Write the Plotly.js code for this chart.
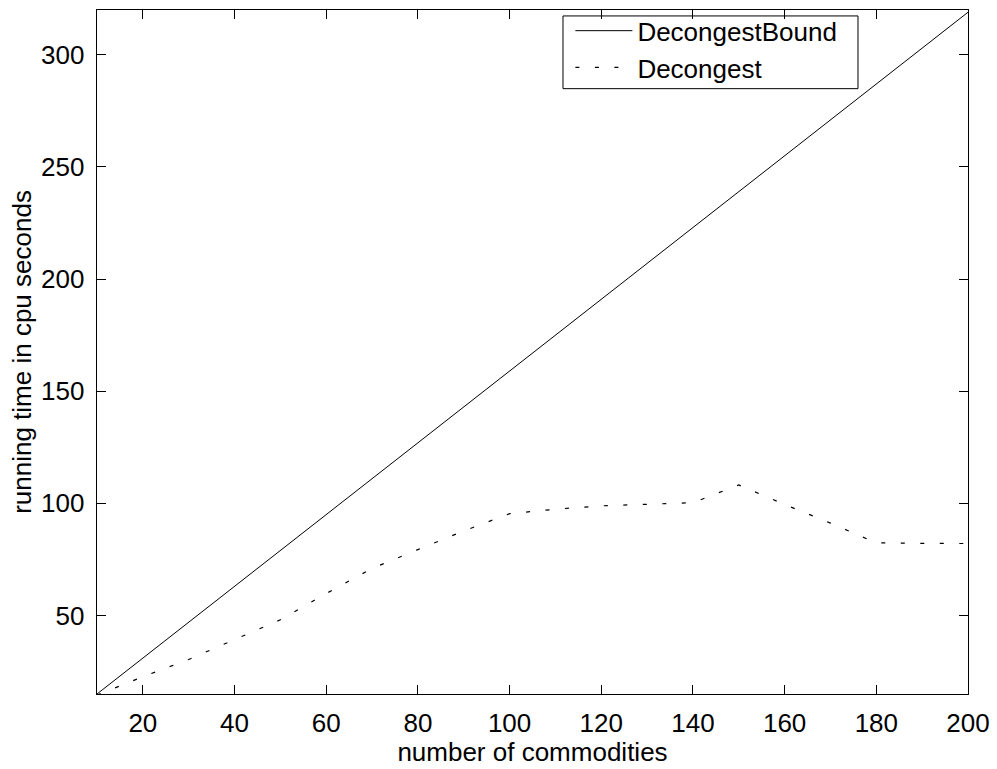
<!DOCTYPE html>
<html>
<head>
<meta charset="utf-8">
<script src="https://cdn.plot.ly/plotly-3.0.1.min.js"></script>
<style>
html, body { margin: 0; padding: 0; background: #fff; }
#chart { width: 997px; height: 769px; }
</style>
</head>
<body>
<div id="chart"></div>
<script>
// Data
var commodities = [10, 20, 30, 40, 50, 60, 70, 80, 90, 100, 110, 120, 130, 140, 150, 160, 170, 180, 190, 200];
var decongestBound = [15, 31, 47, 63, 79, 95, 111, 127, 143, 159, 175, 191, 207, 223, 239, 255, 271, 287, 303, 319];
var decongest = [14.5, 22.7, 30.4, 39.1, 48.1, 59.8, 71.0, 79.4, 87.7, 95.4, 97.4, 98.9, 99.6, 100.3, 108.2, 99.5, 91.2, 82.4, 82.2, 82.1];

var xTicks = [20, 40, 60, 80, 100, 120, 140, 160, 180, 200];
var xTickLabels = ["20", "40", "60", "80", "100", "120", "140", "160", "180", "200"];
var yTicks = [50, 100, 150, 200, 250, 300];
var yTickLabels = ["50", "100", "150", "200", "250", "300"];

var FONT = "Liberation Sans, Arial, Helvetica, sans-serif";

var traces = [
  {
    x: commodities, y: decongestBound, type: "scatter", mode: "lines",
    name: "DecongestBound",
    line: { color: "#000", width: 1 }
  },
  {
    x: commodities, y: decongest, type: "scatter", mode: "lines",
    name: "Decongest",
    line: { color: "#000", width: 1.2, dash: "4px,15.5px" }
  }
];

var axisCommon = {
  showgrid: false, zeroline: false,
  showline: true, linecolor: "#000", linewidth: 1.3, mirror: "ticks",
  ticks: "inside", ticklen: 9, tickwidth: 1, tickcolor: "#000",
  tickfont: { family: FONT, size: 26, color: "#000" },
  tickmode: "array"
};

var layout = {
  width: 997, height: 769,
  margin: { l: 97, r: 29, t: 7, b: 75, pad: 0 },
  paper_bgcolor: "#fff", plot_bgcolor: "#fff",
  showlegend: true,
  xaxis: Object.assign({}, axisCommon, {
    range: [10, 200],
    tickvals: xTicks, ticktext: xTickLabels,
    ticklabelstandoff: 5,
    title: { text: "number of commodities", font: { family: FONT, size: 26, color: "#000" }, standoff: 0 }
  }),
  yaxis: Object.assign({}, axisCommon, {
    range: [15, 320],
    tickvals: yTicks, ticktext: yTickLabels,
    ticklabelstandoff: 6,
    title: { text: "running time in cpu seconds", font: { family: FONT, size: 26, color: "#000" }, standoff: 2 }
  }),
  shapes: [
    { type: "rect", xref: "paper", yref: "paper",
      x0: 0.535, x1: 0.8737, y0: 0.885, y1: 0.9913,
      line: { color: "#000", width: 1 }, fillcolor: "rgba(0,0,0,0)", layer: "above" }
  ],
  legend: {
    x: 0.5435, y: 1.004, xanchor: "left", yanchor: "top",
    bgcolor: "rgba(0,0,0,0)", borderwidth: 0,
    font: { family: FONT, size: 26, color: "#000" },
    itemwidth: 57,
    tracegroupgap: 0
  }
};

Plotly.newPlot("chart", traces, layout, { displayModeBar: false, staticPlot: true });
</script>
</body>
</html>
